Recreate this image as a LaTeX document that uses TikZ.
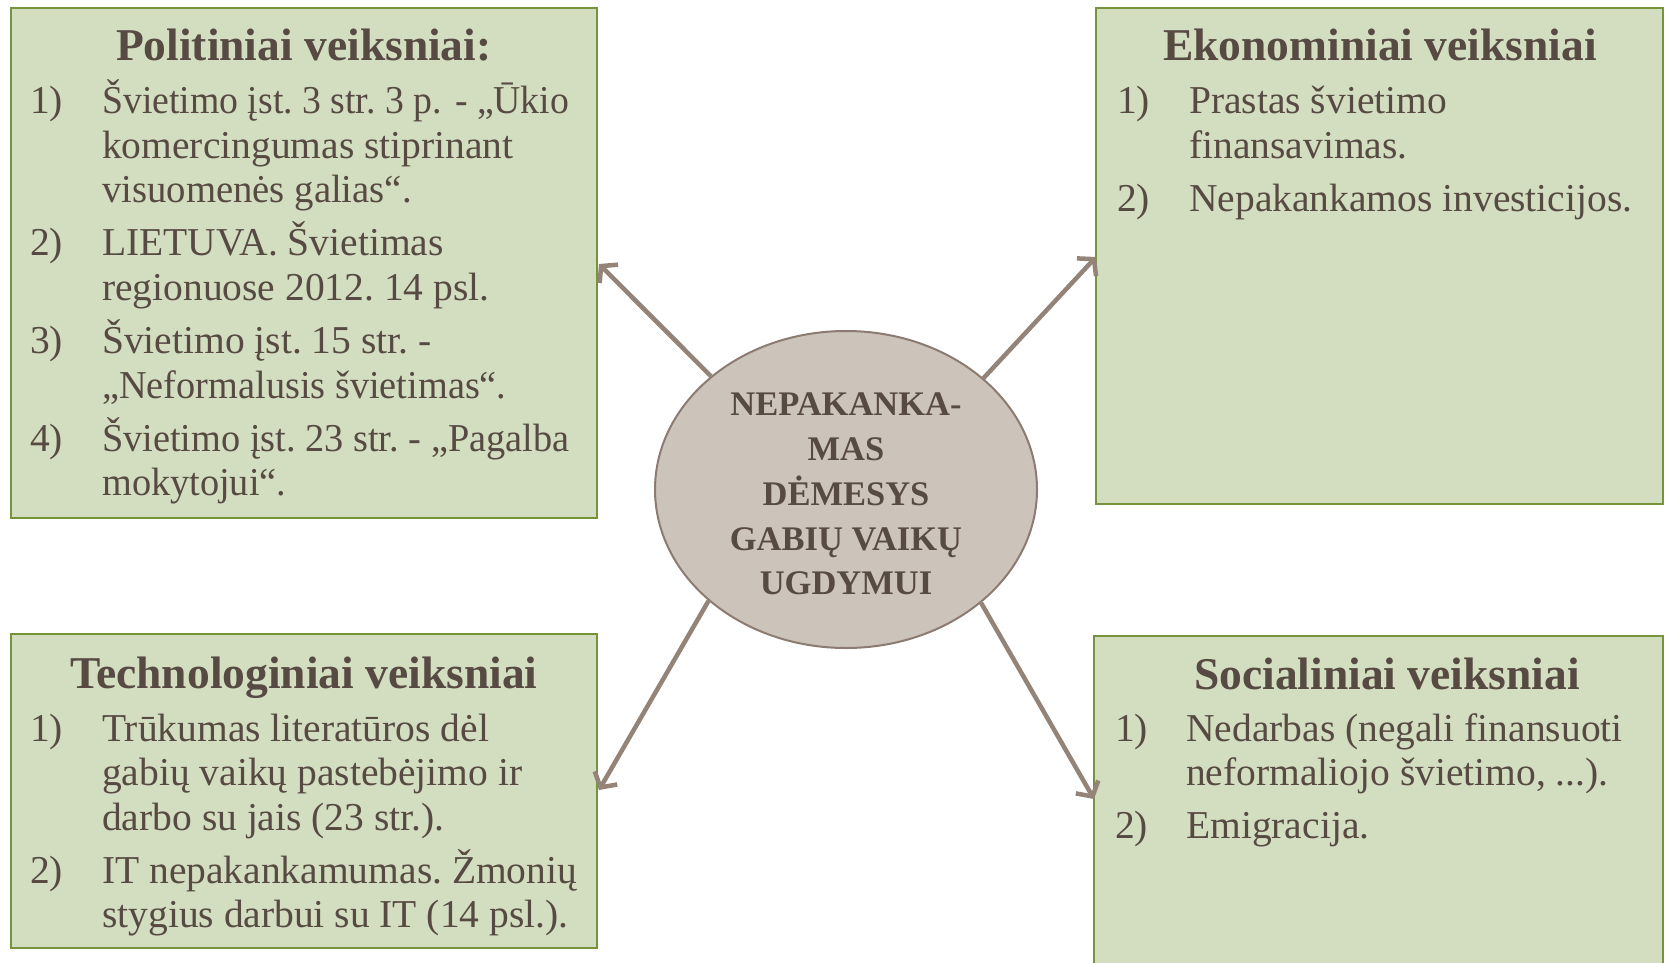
\documentclass[tikz,border=0pt]{standalone}
\usepackage{graphicx}
\usepackage{fontspec}
\setmainfont{Liberation Serif}
\frenchspacing
\usetikzlibrary{shapes.geometric,arrows.meta}
\definecolor{boxfill}{HTML}{D3DEC0}
\definecolor{boxline}{HTML}{77933C}
\definecolor{txt}{HTML}{574A42}
\definecolor{ellfill}{HTML}{CCC3BB}
\definecolor{ellline}{HTML}{8C7B70}
\definecolor{arrcol}{HTML}{948377}
\tikzset{
  box/.style={draw=boxline, fill=boxfill, line width=2pt, rectangle, inner sep=0pt},
  title/.style={font=\fontsize{45.5}{50}\selectfont\bfseries, text=txt, inner sep=0pt, anchor=base},
  num/.style={font=\fontsize{39.5}{44.6}\selectfont, text=txt, inner sep=0pt, anchor=base west},
  body/.style={font=\fontsize{39.5}{44.6}\selectfont\frenchspacing, text=txt, inner sep=0pt, anchor=base west},
  centre/.style={font=\fontsize{34.5}{44.6}\selectfont\bfseries, text=txt, inner sep=0pt, anchor=base},
  arr/.style={draw=arrcol, line width=4.5pt, -{Straight Barb[length=11pt,width=26pt,line width=4.5pt]}}
}
\begin{document}
\begin{tikzpicture}[x=1pt,y=-1pt]
\useasboundingbox (0,0) rectangle (1665,962);
% boxes
\node[box, minimum width=586.5pt, minimum height=510pt] (tl) at (303.75,263) {};
\node[box, minimum width=567pt, minimum height=496pt] (tr) at (1379.5,256) {};
\node[box, minimum width=586.5pt, minimum height=314pt] (bl) at (303.75,791) {};
\node[box, minimum width=569pt, minimum height=340pt] (br) at (1378.5,806) {};
% ellipse
\node[ellipse, draw=ellline, fill=ellfill, line width=2pt, minimum width=382pt, minimum height=317pt, inner sep=0pt] (ell) at (846,489.5) {};
\node[centre] (e1) at (846,415) {NEPAKANKA-};
\node[centre] (e2) at (846,460) {MAS};
\node[centre] (e3) at (846,505) {DĖMESYS};
\node[centre] (e4) at (846,550) {GABIŲ VAIKŲ};
\node[centre] (e5) at (846,594) {UGDYMUI};
% top-left
\node[title] (tlT) at (303.75,60) {Politiniai veiksniai:};
\node[num] (tln1) at (30,113.4) {1)};
\node[body] (tla1) at (102,113.4) {\scalebox{0.955}[1]{Švietimo įst. 3 str. 3 p.\hspace{4pt} - „Ūkio}};
\node[body] (tla2) at (102,158) {komercingumas stiprinant};
\node[body] (tla3) at (102,202.6) {\scalebox{0.98}[1]{visuomenės galias“.}};
\node[num] (tln2) at (30,255.7) {2)};
\node[body] (tlb1) at (102,255.7) {LIETUVA. Švietimas};
\node[body] (tlb2) at (102,300.3) {regionuose 2012. 14 psl.};
\node[num] (tln3) at (30,353.4) {3)};
\node[body] (tlc1) at (102,353.4) {Švietimo įst. 15 str. -};
\node[body] (tlc2) at (102,398) {\scalebox{0.97}[1]{„Neformalusis švietimas“.}};
\node[num] (tln4) at (30,451.1) {4)};
\node[body] (tld1) at (102,451.1) {\scalebox{0.97}[1]{Švietimo įst. 23 str. - „Pagalba}};
\node[body] (tld2) at (102,495.7) {\scalebox{0.97}[1]{mokytojui“.}};
% top-right
\node[title] (trT) at (1380,60) {Ekonominiai veiksniai};
\node[num] (trn1) at (1117,113.4) {1)};
\node[body] (tra1) at (1189,113.4) {Prastas švietimo};
\node[body] (tra2) at (1189,158) {finansavimas.};
\node[num] (trn2) at (1117,211.1) {2)};
\node[body] (trb1) at (1189,211.1) {Nepakankamos investicijos.};
% bottom-left
\node[title] (blT) at (303.75,688) {Technologiniai veiksniai};
\node[num] (bln1) at (30,741) {1)};
\node[body] (bla1) at (102,741) {Trūkumas literatūros dėl};
\node[body] (bla2) at (102,785.5) {gabių vaikų pastebėjimo ir};
\node[body] (bla3) at (102,830.2) {darbo su jais (23 str.).};
\node[num] (bln2) at (30,883.3) {2)};
\node[body] (blb1) at (102,883.3) {IT nepakankamumas. Žmonių};
\node[body] (blb2) at (102,927.9) {stygius darbui su IT (14 psl.).};
% bottom-right
\node[title] (brT) at (1387,689) {Socialiniai veiksniai};
\node[num] (brn1) at (1115,741) {1)};
\node[body] (bra1) at (1186,741) {Nedarbas (negali finansuoti};
\node[body] (bra2) at (1186,785.5) {neformaliojo švietimo, ...).};
\node[num] (brn2) at (1115,838.5) {2)};
\node[body] (brb1) at (1186,838.5) {Emigracija.};
% arrow ends
\coordinate (tlE) at (599,264);
\coordinate (trE) at (1096,257);
\coordinate (blE) at (599,790);
\coordinate (brE) at (1094,799);
\draw[arr] (ell.140.6) -- (tlE);
\draw[arr] (ell.39.8) -- (trE);
\draw[arr] (ell.219.6) -- (blE);
\draw[arr] (ell.320) -- (brE);
\end{tikzpicture}
\end{document}
